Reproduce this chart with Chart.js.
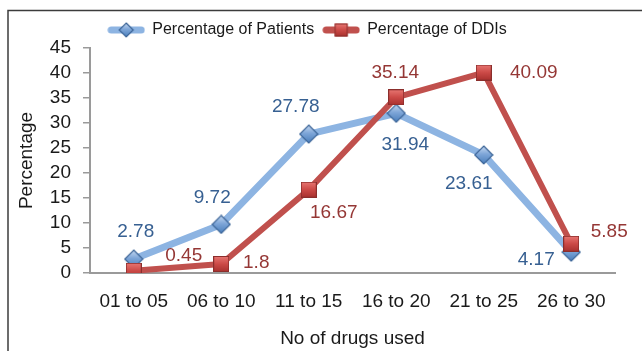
<!DOCTYPE html>
<html>
<head>
<meta charset="utf-8">
<script src="https://cdn.jsdelivr.net/npm/chart.js@4/dist/chart.umd.min.js"></script>
<style>
  html, body { margin: 0; padding: 0; background: #ffffff; }
  #wrap { width: 642px; height: 351px; }
</style>
</head>
<body>
<div id="wrap"><canvas id="chart" width="642" height="351"></canvas></div>
<script>
// Categories and series values
const categories = ['01 to 05', '06 to 10', '11 to 15', '16 to 20', '21 to 25', '26 to 30'];
const patientsPct = [2.78, 9.72, 27.78, 31.94, 23.61, 4.17];
const ddiPct = [0.45, 1.8, 16.67, 35.14, 40.09, 5.85];
const yMin = 0, yMax = 45, yStep = 5;

// Where each value label sits relative to its point (dx, dy in px)
const patientsLabelOffsets = [[2, -27], [-9, -27], [-13, -27], [9, 31], [-15, 29], [-35, 8]];
const ddiLabelOffsets = [[50, -15], [35, -1], [25, 23], [-1, -25], [50, 0], [38, -12]];

const FONT = "'Liberation Sans', Arial, sans-serif";
const BLUE_LINE = '#8DB4E2';
const RED_LINE = '#C0504D';
const BLUE_TEXT = '#376092';
const RED_TEXT = '#953735';
const AXIS = '#9A9A9A';
const INK = '#1A1A1A';

function makeCanvas(w, h) {
  const c = document.createElement('canvas');
  c.width = w; c.height = h;
  return c;
}

function drawDiamond(ctx, cx, cy, r) {
  const g = ctx.createLinearGradient(0, cy - r, 0, cy + r);
  g.addColorStop(0, '#C6D9F1');
  g.addColorStop(0.45, '#7EA6D8');
  g.addColorStop(1, '#4A7EBB');
  ctx.beginPath();
  ctx.moveTo(cx, cy - r);
  ctx.lineTo(cx + r, cy);
  ctx.lineTo(cx, cy + r);
  ctx.lineTo(cx - r, cy);
  ctx.closePath();
  ctx.fillStyle = g;
  ctx.fill();
  ctx.lineWidth = 1.2;
  ctx.strokeStyle = '#3A6396';
  ctx.stroke();
}

function drawSquare(ctx, cx, cy, h) {
  const g = ctx.createLinearGradient(0, cy - h, 0, cy + h);
  g.addColorStop(0, '#E87874');
  g.addColorStop(0.5, '#CC4A47');
  g.addColorStop(1, '#A8302E');
  ctx.fillStyle = g;
  ctx.fillRect(cx - h, cy - h, 2 * h, 2 * h);
  ctx.lineWidth = 1;
  ctx.strokeStyle = '#8B2E2C';
  ctx.strokeRect(cx - h + 0.5, cy - h + 0.5, 2 * h - 1, 2 * h - 1);
}

// Marker images used by the point elements
const diamondImg = makeCanvas(20, 20);
drawDiamond(diamondImg.getContext('2d'), 10, 10, 9);
const squareImg = makeCanvas(16, 16);
drawSquare(squareImg.getContext('2d'), 8, 8, 8);

// Legend swatches: a short thick line with the marker in the middle
function legendSwatch(color, drawMarker) {
  const c = makeCanvas(38, 18);
  const ctx = c.getContext('2d');
  ctx.strokeStyle = color;
  ctx.lineWidth = 7;
  ctx.lineCap = 'round';
  ctx.beginPath();
  ctx.moveTo(4, 9);
  ctx.lineTo(34, 9);
  ctx.stroke();
  drawMarker(ctx);
  return c;
}
const blueSwatch = legendSwatch(BLUE_LINE, ctx => drawDiamond(ctx, 19, 9, 7));
const redSwatch = legendSwatch(RED_LINE, ctx => drawSquare(ctx, 19, 9, 6.5));

// Outer frame of the figure
const framePlugin = {
  id: 'frame',
  beforeDraw(chart) {
    const ctx = chart.ctx;
    ctx.save();
    ctx.strokeStyle = '#3C3C3C';
    ctx.lineWidth = 1.5;
    ctx.strokeRect(8, 10.5, 800, 500);
    ctx.restore();
  }
};

// Value labels next to each point
const valueLabelPlugin = {
  id: 'valueLabels',
  afterDatasetsDraw(chart) {
    const ctx = chart.ctx;
    ctx.save();
    ctx.font = '19px ' + FONT;
    ctx.textAlign = 'center';
    ctx.textBaseline = 'middle';
    chart.data.datasets.forEach((ds, di) => {
      const meta = chart.getDatasetMeta(di);
      meta.data.forEach((pt, i) => {
        const [dx, dy] = ds.labelOffsets[i];
        ctx.fillStyle = ds.labelColor;
        ctx.fillText(String(ds.data[i]), pt.x + dx, pt.y + dy);
      });
    });
    ctx.restore();
  }
};

new Chart(document.getElementById('chart'), {
  type: 'line',
  data: {
    labels: categories,
    datasets: [
      {
        label: 'Percentage of DDIs',
        data: ddiPct,
        borderColor: RED_LINE,
        backgroundColor: RED_LINE,
        borderWidth: 6,
        borderJoinStyle: 'round',
        pointStyle: squareImg,
        pointRadius: 8,
        legendSwatch: redSwatch,
        labelColor: RED_TEXT,
        labelOffsets: ddiLabelOffsets,
        tension: 0
      },
      {
        label: 'Percentage of Patients',
        data: patientsPct,
        borderColor: BLUE_LINE,
        backgroundColor: BLUE_LINE,
        borderWidth: 7,
        borderJoinStyle: 'round',
        pointStyle: diamondImg,
        pointRadius: 9,
        legendSwatch: blueSwatch,
        labelColor: BLUE_TEXT,
        labelOffsets: patientsLabelOffsets,
        tension: 0
      }
    ]
  },
  options: {
    responsive: false,
    animation: false,
    layout: { padding: { left: 0, right: 27, top: 13, bottom: 0 } },
    plugins: {
      tooltip: { enabled: false },
      legend: {
        position: 'top',
        reverse: true,
        labels: {
          usePointStyle: true,
          pointStyleWidth: 36,
          padding: 9,
          color: INK,
          font: { family: FONT, size: 16 },
          generateLabels(chart) {
            return chart.data.datasets.map((ds, i) => ({
              text: ds.label,
              pointStyle: ds.legendSwatch,
              fillStyle: ds.borderColor,
              strokeStyle: ds.borderColor,
              lineWidth: 0,
              fontColor: INK,
              hidden: false,
              datasetIndex: i
            }));
          }
        }
      }
    },
    scales: {
      x: {
        type: 'category',
        offset: true,
        grid: { display: false },
        border: { display: true, color: AXIS, width: 2 },
        ticks: { color: INK, padding: 9, font: { family: FONT, size: 19 } },
        title: {
          display: true,
          text: 'No of drugs used',
          color: INK,
          font: { family: FONT, size: 19 },
          padding: { top: 0, bottom: 1 }
        },
        afterFit(scale) { scale.height = 78; }
      },
      y: {
        min: yMin,
        max: yMax,
        grid: {
          display: true,
          drawOnChartArea: false,
          drawTicks: true,
          tickLength: 7,
          color: AXIS,
          lineWidth: 1.5
        },
        border: { display: true, color: AXIS, width: 2 },
        ticks: {
          stepSize: yStep,
          autoSkip: false,
          color: INK,
          padding: 12,
          font: { family: FONT, size: 19 }
        },
        title: {
          display: true,
          text: 'Percentage',
          color: INK,
          font: { family: FONT, size: 19 },
          padding: { top: 15, bottom: 0 }
        },
        afterFit(scale) { scale.width = 90; }
      }
    }
  },
  plugins: [framePlugin, valueLabelPlugin]
});
</script>
</body>
</html>
